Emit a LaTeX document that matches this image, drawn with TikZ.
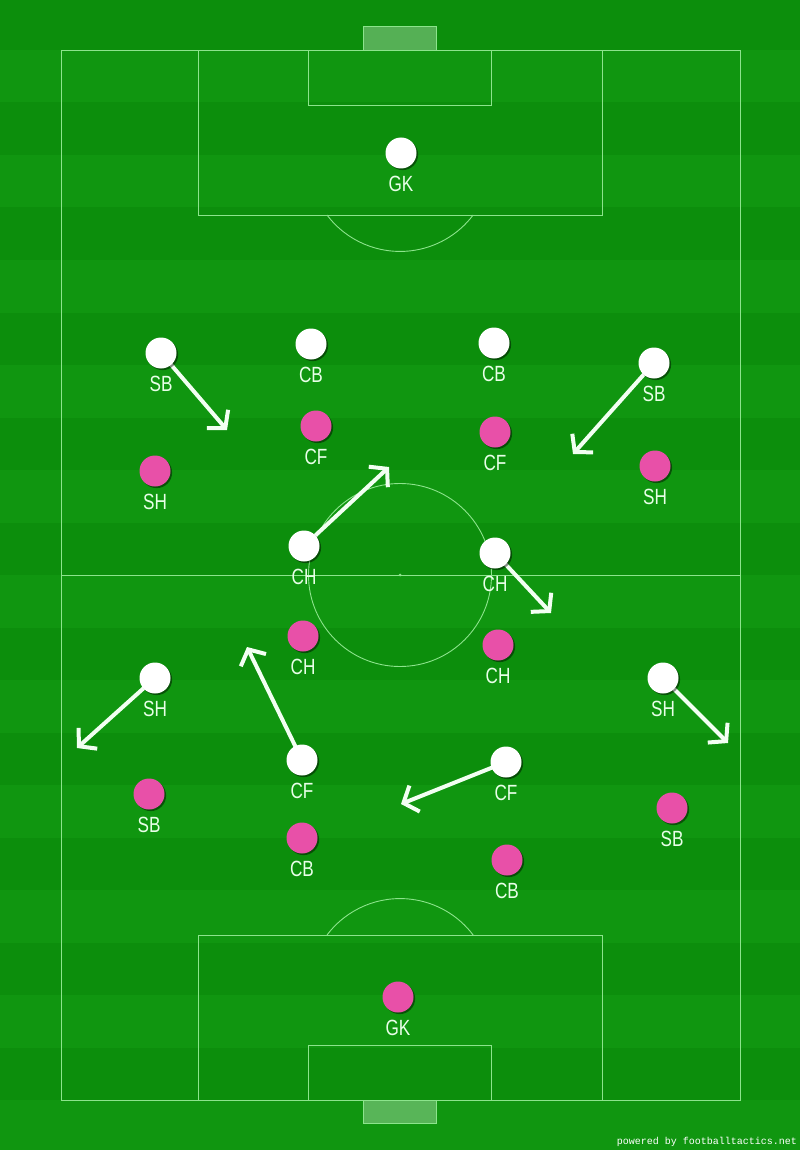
\documentclass[tikz,border=0pt]{standalone}
\usepackage{fontspec}
\usetikzlibrary{arrows.meta,shadows}
\newfontfamily\labfont[FakeStretch=0.78]{Liberation Sans}
\newfontfamily\credfont{Liberation Mono}
\definecolor{fieldA}{RGB}{16,150,16}
\definecolor{fieldB}{RGB}{12,142,12}
\definecolor{pitchline}{RGB}{140,228,140}
\definecolor{pinkp}{RGB}{232,80,168}
\definecolor{labcol}{RGB}{232,255,232}
\definecolor{arrcol}{RGB}{242,255,242}
\tikzset{
  pline/.style={draw=pitchline,line width=0.9pt},
  player/.style={circle,minimum size=31pt,inner sep=0pt,
    drop shadow={shadow xshift=1.6pt,shadow yshift=-1.6pt,opacity=0.45,fill=black}},
  wp/.style={player,fill=white},
  pp/.style={player,fill=pinkp},
  lab/.style={text=labcol,font=\labfont\fontsize{22}{22}\selectfont,inner sep=0pt,
    text height=15.8pt,text depth=0pt,anchor=center},
  run/.style={draw=arrcol,line width=4pt,-{Straight Barb[length=12pt,width=28pt]}},
}
\begin{document}
\begin{tikzpicture}[x=1pt,y=-1pt]
\useasboundingbox (0,0) rectangle (800,1150);
% background stripes
\fill[fieldA] (0,0) rectangle (800,1150);
\foreach \i in {0,2,...,22}{
  \fill[fieldB] (0,{-2.5+52.5*\i}) rectangle (800,{50+52.5*\i});
}
% pitch lines
\draw[pline] (61,50) rectangle (740,1100);
\draw[pline] (61,575) -- (740,575);
\draw[pline] (400,575) circle[radius=91.5];
\fill[pitchline] (400,575) circle[radius=1.5];
% top
\draw[pline] (198,50) rectangle (602,215);
\draw[pline] (308.5,50) rectangle (491.5,105);
\draw[pline] (327,215) arc[start angle=143,end angle=37,radius=91.5];
\draw[pline,fill=white,fill opacity=0.3] (363.5,26.5) rectangle (436.5,50);
% bottom
\draw[pline] (198,935) rectangle (602,1100);
\draw[pline] (308.5,1045) rectangle (491.5,1100);
\draw[pline] (327,935) arc[start angle=217,end angle=323,radius=91.5];
\draw[pline,fill=white,fill opacity=0.3] (363.5,1100) rectangle (436.5,1123.5);
% arrow tips
\coordinate (t1) at (227,430);
\coordinate (t2) at (573,454);
\coordinate (t3) at (389,467);
\coordinate (t4) at (551,613);
\coordinate (t5) at (77,748);
\coordinate (t6) at (247,647);
\coordinate (t7) at (401,804);
\coordinate (t8) at (728,743);
% white team
\coordinate (cw1) at (161,353);
\coordinate (cw2) at (654,363);
\coordinate (cw3) at (304,546);
\coordinate (cw4) at (495,553);
\coordinate (cw5) at (155,678);
\coordinate (cw6) at (302,760);
\coordinate (cw7) at (506,762);
\coordinate (cw8) at (663,678);
\draw[run] (cw1) -- (t1);
\draw[run] (cw2) -- (t2);
\draw[run] (cw3) -- (t3);
\draw[run] (cw4) -- (t4);
\draw[run] (cw5) -- (t5);
\draw[run] (cw6) -- (t6);
\draw[run] (cw7) -- (t7);
\draw[run] (cw8) -- (t8);
\node[wp] (wgk) at (401,153) {};
\node[wp] (wsbl) at (cw1) {};
\node[wp] (wcbl) at (311,344) {};
\node[wp] (wcbr) at (494,343) {};
\node[wp] (wsbr) at (cw2) {};
\node[wp] (wchl) at (cw3) {};
\node[wp] (wchr) at (cw4) {};
\node[wp] (wshl) at (cw5) {};
\node[wp] (wcfl) at (cw6) {};
\node[wp] (wcfr) at (cw7) {};
\node[wp] (wshr) at (cw8) {};
% pink team
\node[pp] (pcfl) at (316,426) {};
\node[pp] (pcfr) at (495,432) {};
\node[pp] (pshl) at (155,471) {};
\node[pp] (pshr) at (655,466) {};
\node[pp] (pchl) at (303,636) {};
\node[pp] (pchr) at (498,645) {};
\node[pp] (psbl) at (149,794) {};
\node[pp] (pcbl) at (302,838) {};
\node[pp] (pcbr) at (507,860) {};
\node[pp] (psbr) at (672,808) {};
\node[pp] (pgk) at (398,997) {};
% labels
\foreach \n/\t in {wgk/GK,wsbl/SB,wcbl/CB,wcbr/CB,wsbr/SB,wchl/CH,wchr/CH,wshl/SH,wcfl/CF,wcfr/CF,wshr/SH,
  pcfl/CF,pcfr/CF,pshl/SH,pshr/SH,pchl/CH,pchr/CH,psbl/SB,pcbl/CB,pcbr/CB,psbr/SB,pgk/GK}{
  \node[lab] (l\n) at ([yshift=-31pt]\n.center) {\t};
}
% credit
\node[anchor=base east,inner sep=0pt,text=white,font=\credfont\fontsize{10}{10}\selectfont] (credit) at (797,1144) {powered by footballtactics.net};
\end{tikzpicture}
\end{document}
